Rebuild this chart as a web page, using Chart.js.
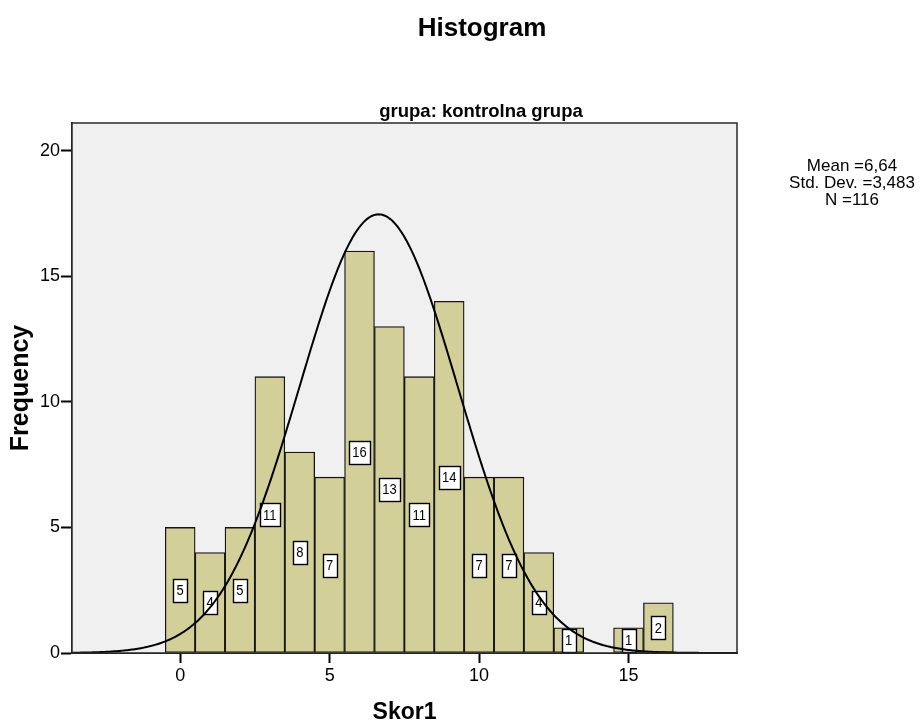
<!DOCTYPE html>
<html>
<head>
<meta charset="utf-8">
<title>Histogram</title>
<script src="https://cdn.jsdelivr.net/npm/chart.js@4/dist/chart.umd.min.js"></script>
<style>
  html, body { margin: 0; padding: 0; background: #ffffff; }
  #wrap { width: 920px; height: 722px; position: relative; }
</style>
</head>
<body>
<div id="wrap"><canvas id="hist" width="920" height="722"></canvas></div>
<script>
// Score values (bin centres) and their counts
const scores      = [0, 1, 2, 3, 4, 5, 6, 7, 8, 9, 10, 11, 12, 13, 14, 15, 16];
const frequencies = [5, 4, 5, 11, 8, 7, 16, 13, 11, 14, 7, 7, 4, 1, 0, 1, 2];

// Axis ticks
const xTicks = [0, 5, 10, 15];
const yTicks = [0, 5, 10, 15, 20];

// Summary statistics shown beside the plot
const statLines = ['Mean =6,64', 'Std. Dev. =3,483', 'N =116'];

// Normal curve overlay parameters
const curveMean = 6.64;
const curveSd = 2.65;
const curveN = 116;

const xMin = -3.62, xMax = 18.63;
const yMax = 21.1;

const FONT = '"Liberation Sans", Arial, Helvetica, sans-serif';

const barPoints = scores.map((s, i) => ({ x: s, y: frequencies[i] }));

const curvePoints = [];
for (let x = xMin; x <= xMax + 1e-9; x += 0.05) {
  const z = (x - curveMean) / curveSd;
  curvePoints.push({ x: x, y: curveN / (curveSd * Math.sqrt(2 * Math.PI)) * Math.exp(-0.5 * z * z) });
}

// Grey plotting panel behind the data
const panelPlugin = {
  id: 'panel',
  beforeDatasetsDraw(chart) {
    const { ctx, chartArea: a } = chart;
    ctx.save();
    ctx.fillStyle = '#f0f0f0';
    ctx.fillRect(a.left, a.top, a.right - a.left, a.bottom - a.top);
    ctx.restore();
  },
  afterDraw(chart) {
    const { ctx, chartArea: a } = chart;
    ctx.save();
    ctx.strokeStyle = '#2a2a2a';
    ctx.lineWidth = 1.5;
    ctx.strokeRect(a.left, a.top, a.right - a.left, a.bottom - a.top);
    ctx.restore();
  }
};

// Boxed count labels at half the height of each bar
const countLabelPlugin = {
  id: 'countLabels',
  afterDatasetDraw(chart, args) {
    if (args.index !== 0) return;
    const { ctx } = chart;
    const meta = chart.getDatasetMeta(0);
    const yScale = chart.scales.y;
    ctx.save();
    ctx.font = '13px ' + FONT;
    meta.data.forEach((bar, i) => {
      const v = frequencies[i];
      if (!v) return;
      const txt = String(v);
      const cx = bar.x;
      const cy = yScale.getPixelForValue(v / 2);
      const w = Math.round(ctx.measureText(txt).width) + 7;
      const h = 23;
      const left = Math.round(cx - w / 2) + 0.5;
      const top = Math.round(cy - h / 2) + 0.5;
      ctx.fillStyle = '#ffffff';
      ctx.fillRect(left, top, w, h);
      ctx.strokeStyle = '#000000';
      ctx.lineWidth = 1.4;
      ctx.strokeRect(left, top, w, h);
      ctx.save();
      ctx.translate(cx, cy);
      ctx.scale(1, 1.15);
      ctx.fillStyle = '#000000';
      ctx.textAlign = 'center';
      ctx.textBaseline = 'middle';
      ctx.fillText(txt, 0, 0.5);
      ctx.restore();
    });
    ctx.restore();
  }
};

// Titles and the statistics block
const textPlugin = {
  id: 'texts',
  afterDraw(chart) {
    const { ctx } = chart;
    ctx.save();
    ctx.fillStyle = '#000000';
    ctx.textAlign = 'center';
    ctx.textBaseline = 'alphabetic';
    ctx.font = 'bold 26px ' + FONT;
    ctx.fillText('Histogram', 482, 36);
    ctx.font = 'bold 18.5px ' + FONT;
    ctx.fillText('grupa: kontrolna grupa', 481, 117);
    ctx.font = '17px ' + FONT;
    statLines.forEach((line, i) => ctx.fillText(line, 852, 171 + i * 16.8));
    ctx.restore();
  }
};

new Chart(document.getElementById('hist'), {
  data: {
    datasets: [
      {
        type: 'bar',
        data: barPoints,
        backgroundColor: '#d3cf98',
        borderColor: '#151515',
        borderWidth: 1.3,
        borderSkipped: false,
        barPercentage: 1,
        categoryPercentage: 1,
        order: 1
      },
      {
        type: 'line',
        data: curvePoints,
        borderColor: '#000000',
        borderWidth: 2,
        pointRadius: 0,
        tension: 0,
        fill: false,
        order: 0
      }
    ]
  },
  options: {
    responsive: false,
    animation: false,
    devicePixelRatio: 1,
    layout: { padding: { top: 123, right: 183, left: 0, bottom: 0 } },
    plugins: {
      legend: { display: false },
      title: { display: false },
      tooltip: { enabled: false }
    },
    scales: {
      x: {
        type: 'linear',
        min: xMin,
        max: xMax,
        offset: false,
        afterBuildTicks(scale) { scale.ticks = xTicks.map(v => ({ value: v })); },
        afterFit(scale) { scale.height = 69; },
        ticks: {
          color: '#000000',
          font: { family: FONT, size: 18 },
          padding: 2,
          maxRotation: 0,
          callback: v => String(v)
        },
        grid: {
          offset: false,
          drawOnChartArea: false,
          drawTicks: true,
          tickLength: 10,
          tickColor: '#000000',
          tickWidth: 2
        },
        border: { display: true, color: '#1a1a1a', width: 2 },
        title: {
          display: true,
          text: 'Skor1',
          color: '#000000',
          font: { family: FONT, size: 23, weight: 'bold', lineHeight: 0.8 },
          padding: { top: 0, bottom: 0 }
        }
      },
      y: {
        type: 'linear',
        min: 0,
        max: yMax,
        afterBuildTicks(scale) { scale.ticks = yTicks.map(v => ({ value: v })); },
        afterFit(scale) { scale.width = 72; },
        ticks: {
          color: '#000000',
          font: { family: FONT, size: 18 },
          padding: 1,
          callback: v => String(v)
        },
        grid: {
          drawOnChartArea: false,
          drawTicks: true,
          tickLength: 11,
          tickColor: '#000000',
          tickWidth: 2
        },
        border: { display: true, color: '#1a1a1a', width: 2 },
        title: {
          display: true,
          text: 'Frequency',
          color: '#000000',
          font: { family: FONT, size: 25, weight: 'bold', lineHeight: 1.2 },
          padding: { top: 6, bottom: 0 }
        }
      }
    }
  },
  plugins: [panelPlugin, countLabelPlugin, textPlugin]
});
</script>
</body>
</html>
